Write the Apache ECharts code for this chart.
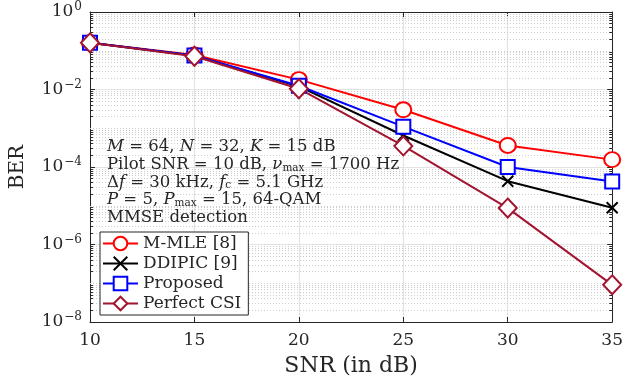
<!DOCTYPE html>
<html><head><meta charset="utf-8">
<script src="https://cdn.jsdelivr.net/npm/echarts@6/dist/echarts.min.js"></script>
<style>html,body{margin:0;padding:0;background:#fff}#c{width:626px;height:382px}</style>
</head><body><div id="c"></div>
<script>
var snr = [10, 15, 20, 25, 30, 35];
var mmle = [0.160, 0.078, 0.018, 0.0030, 3.6e-4, 1.55e-4];
var ddipic = [0.160, 0.074, 0.012, 6.5e-4, 4.3e-5, 8.9e-6];
var proposed = [0.160, 0.075, 0.0125, 1.1e-3, 1.0e-4, 4.2e-5];
var perfect = [0.160, 0.072, 0.0105, 3.5e-4, 8.7e-6, 9.1e-8];
var xTicks = [10, 15, 20, 25, 30, 35];
var yTickExps = [-8, -6, -4, -2, 0];
var names = ['M-MLE [8]', 'DDIPIC [9]', 'Proposed', 'Perfect CSI'];

var minorVals = [];
for (var e = -8; e < 0; e++) {
  for (var m = 1; m <= 9; m++) {
    if (m === 1 && e % 2 === 0) continue;
    minorVals.push(m * Math.pow(10, e));
  }
}
var tickVals = [];
for (var e2 = -8; e2 < 0; e2++) for (var m2 = 2; m2 <= 9; m2++) tickVals.push(m2 * Math.pow(10, e2));

var FONT = 'DejaVu Serif';
var TXT = '#262626';
var chart = echarts.init(document.getElementById('c'), null, {renderer: 'canvas'});

var minorGrid = minorVals.map(function (v) { return {yAxis: v}; });
var minorTicks = [];
tickVals.forEach(function (v) {
  minorTicks.push([{coord: [10, v]}, {coord: [10.14, v]}]);
  minorTicks.push([{coord: [34.86, v]}, {coord: [35, v]}]);
});

function mk(name, data, color, symbol, size) {
  return {
    name: name, type: 'line', data: snr.map(function (x, i) { return [x, data[i]]; }),
    symbol: symbol, symbolSize: size, z: 5,
    lineStyle: {color: color, width: 2},
    itemStyle: {color: color, borderColor: color, borderWidth: 2},
    emphasis: {disabled: true}
  };
}

var option = {
  animation: false,
  backgroundColor: '#fff',
  grid: {left: 89, right: 9, top: 12, bottom: 57},
  legend: {
    orient: 'vertical', left: 100, top: 232,
    backgroundColor: '#fff', borderColor: TXT, borderWidth: 1,
    padding: [3, 7, 3, 2], itemGap: 3, itemWidth: 35, itemHeight: 17,
    textStyle: {fontFamily: FONT, fontSize: 17, color: TXT, lineHeight: 17},
    data: names
  },
  xAxis: [{
    type: 'value', min: 10, max: 35, interval: 5,
    axisLine: {show: true, lineStyle: {color: TXT, width: 1}},
    axisTick: {show: true, inside: true, length: 5, lineStyle: {color: TXT}},
    axisLabel: {fontFamily: FONT, fontSize: 17, color: TXT, margin: 10},
    splitLine: {show: true, lineStyle: {color: '#e3e3e3', width: 1.2}},
    name: 'SNR (in dB)', nameLocation: 'middle', nameGap: 33,
    nameTextStyle: {fontFamily: FONT, fontSize: 22, color: TXT}
  }, {
    type: 'value', min: 10, max: 35, interval: 5, position: 'top',
    axisLine: {show: true, lineStyle: {color: TXT, width: 1}},
    axisTick: {show: true, inside: true, length: 5, lineStyle: {color: TXT}},
    axisLabel: {show: false}, splitLine: {show: false}
  }],
  yAxis: [{
    type: 'log', logBase: 10, min: 1e-8, max: 1, interval: 2,
    axisLine: {show: true, lineStyle: {color: TXT, width: 1}},
    axisTick: {show: true, inside: true, length: 5, lineStyle: {color: TXT}},
    axisLabel: {
      margin: 8,
      formatter: function (v) {
        var ex = Math.round(Math.log10(v));
        return '{b|10}{s|' + (ex < 0 ? '\u2212' + (-ex) : ex) + '}';
      },
      rich: {
        b: {fontFamily: FONT, fontSize: 17, color: TXT, lineHeight: 22, verticalAlign: 'middle'},
        s: {fontFamily: FONT, fontSize: 12, color: TXT, lineHeight: 22, verticalAlign: 'top', padding: [0, 0, 8, 1]}
      }
    },
    splitLine: {show: true, lineStyle: {color: '#e3e3e3', width: 1.2}},
    name: 'BER', nameLocation: 'middle', nameGap: 62, nameRotate: 90,
    nameTextStyle: {fontFamily: FONT, fontSize: 20, color: TXT}
  }, {
    type: 'log', logBase: 10, min: 1e-8, max: 1, interval: 2, position: 'right',
    axisLine: {show: true, lineStyle: {color: TXT, width: 1}},
    axisTick: {show: true, inside: true, length: 5, lineStyle: {color: TXT}},
    axisLabel: {show: false}, splitLine: {show: false}
  }],
  series: [
    {
      name: 'grid-minor', type: 'line', data: [], z: 1, silent: true,
      markLine: {silent: true, symbol: 'none', animation: false, z: 1, precision: 12,
        label: {show: false},
        lineStyle: {type: [1, 2], color: '#cccccc', width: 1},
        emphasis: {disabled: true},
        data: minorGrid}
    },
    {
      name: 'tick-minor', type: 'line', data: [], z: 2, silent: true,
      markLine: {silent: true, symbol: 'none', animation: false, z: 2, precision: 12,
        label: {show: false},
        lineStyle: {type: 'solid', color: TXT, width: 1},
        emphasis: {disabled: true},
        data: minorTicks}
    },
    mk(names[0], mmle, '#ff0000', 'emptyCircle', [16, 15]),
    mk(names[1], ddipic, '#000000', 'path://M0,0L10,10M10,0L0,10', 11),
    mk(names[2], proposed, '#0000ff', 'emptyRect', 14),
    mk(names[3], perfect, '#a2142f', 'emptyDiamond', [18, 19])
  ],
  graphic: [{
    type: 'text', left: 107, top: 138, z: 10, silent: true,
    style: {
      text: '{i|M} = 64, {i|N} = 32, {i|K} = 15 dB\n' +
            'Pilot SNR = 10 dB, {i|\u03bd}{sub|max} = 1700 Hz\n' +
            '\u0394{i|f} = 30 kHz, {i|f}{sub|c} = 5.1 GHz\n' +
            '{i|P} = 5, {i|P}{sub|max} = 15, 64-QAM\n' +
            'MMSE detection',
      font: '16.5px "' + FONT + '"', fill: TXT, lineHeight: 17.7,
      rich: {
        i: {fontFamily: FONT, fontStyle: 'italic', fontSize: 16.5, fill: TXT, lineHeight: 17.7},
        sub: {fontFamily: FONT, fontSize: 10.5, fill: TXT, lineHeight: 17.7, verticalAlign: 'bottom'}
      }
    }
  }]
};
chart.setOption(option);
</script></body></html>
